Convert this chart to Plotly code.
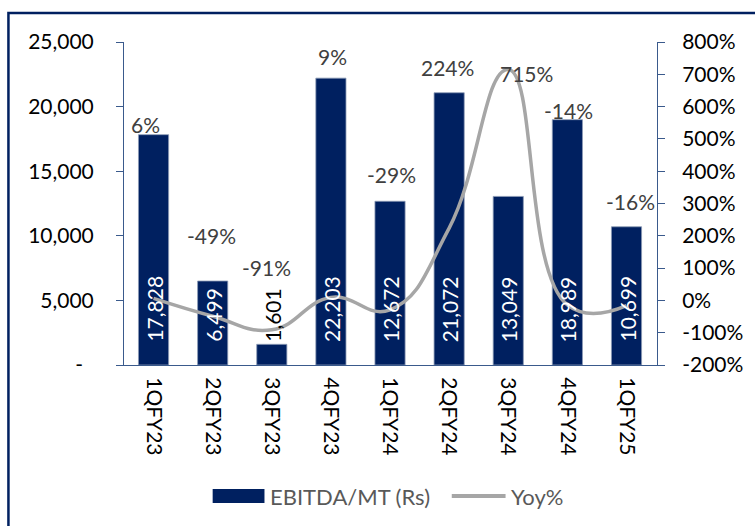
import plotly.graph_objects as go

quarters = ["1QFY23", "2QFY23", "3QFY23", "4QFY23", "1QFY24", "2QFY24", "3QFY24", "4QFY24", "1QFY25"]
ebitda_mt = [17828, 6499, 1601, 22203, 12672, 21072, 13049, 18989, 10699]
yoy_pct = [6, -49, -91, 9, -29, 224, 715, -14, -16]
yoy_labels = ["6%", "-49%", "-91%", "9%", "-29%", "224%", "715%", "-14%", "-16%"]
# placement of YoY labels (left-axis units) and horizontal nudges (px), as in the source
yoy_label_y = [18650, 9985, 7510, 23840, 14780, 23065, 22600, 19660, 12620]
yoy_label_dx = [-8, -1, -5, 2, 1, -2, 18, 1, 4]
left_ticks = [0, 5000, 10000, 15000, 20000, 25000]
left_ticktext = ["-\u00a0\u00a0", "5,000", "10,000", "15,000", "20,000", "25,000"]
right_ticks = list(range(-200, 801, 100))
right_ticktext = [f"{v}%" for v in right_ticks]

BAR = "#002060"
LINE = "#A6A6A6"
AX = "#3A5A8C"
FONT = "Lato"
FS = 21

fig = go.Figure()
fig.add_trace(go.Bar(
    x=quarters, y=ebitda_mt, name="EBITDA/MT (Rs)",
    marker=dict(color=BAR, line=dict(color="#8C9BB5", width=0.8)),
    showlegend=False, hoverinfo="skip",
))
fig.add_trace(go.Scatter(
    x=quarters, y=yoy_pct, name="Yoy%", yaxis="y2", mode="lines",
    line=dict(color=LINE, width=3.5, shape="spline", smoothing=1.3),
    showlegend=False, hoverinfo="skip",
))

ann = []
for q, v in zip(quarters, ebitda_mt):
    ann.append(dict(
        x=q, y=0, xref="x", yref="y", text=f"{v:,}", textangle=-90,
        showarrow=False, yanchor="bottom", xanchor="center", yshift=21,
        font=dict(family=FONT, size=FS, color="white" if v > 5000 else "black"),
    ))
for q, t, yy, dx in zip(quarters, yoy_labels, yoy_label_y, yoy_label_dx):
    ann.append(dict(
        x=q, y=yy, xref="x", yref="y", text=t, showarrow=False,
        xshift=dx, font=dict(family=FONT, size=FS, color="#404040"),
    ))

# manual legend
def px_x(p):
    return (p - 124) / 535.0

def px_y(p):
    return (365 - p) / 323.0

shapes = [
    dict(type="rect", xref="paper", yref="paper", x0=px_x(8), x1=px_x(770), y0=px_y(540), y1=px_y(13),
         line=dict(color="#002060", width=2.5), fillcolor="rgba(0,0,0,0)", layer="below"),
    dict(type="rect", xref="paper", yref="paper", x0=px_x(213), x1=px_x(265), y0=px_y(503), y1=px_y(489),
         line=dict(width=0), fillcolor=BAR),
    dict(type="line", xref="paper", yref="paper", x0=px_x(453), x1=px_x(507), y0=px_y(496), y1=px_y(496),
         line=dict(color=LINE, width=4)),
]
ann.append(dict(x=px_x(269), y=px_y(496), xref="paper", yref="paper", text="EBITDA/MT (Rs)",
                showarrow=False, xanchor="left", yanchor="middle",
                font=dict(family=FONT, size=22, color="#595959")))
ann.append(dict(x=px_x(510), y=px_y(496), xref="paper", yref="paper", text="Yoy%",
                showarrow=False, xanchor="left", yanchor="middle",
                font=dict(family=FONT, size=22, color="#595959")))

fig.update_layout(
    width=755, height=526,
    margin=dict(l=124, r=96, t=42, b=161),
    paper_bgcolor="white", plot_bgcolor="white",
    font=dict(family=FONT, size=FS, color="black"),
    bargap=0.49,
    xaxis=dict(type="category", showline=True, linecolor=AX, linewidth=1, ticks="",
               tickangle=90, showgrid=False, tickfont=dict(size=FS), ticklabelstandoff=7),
    yaxis=dict(range=[0, 25000], tickvals=left_ticks, ticktext=left_ticktext, showline=True,
               linecolor=AX, linewidth=1, ticks="outside", ticklen=7, tickcolor=AX,
               showgrid=False, zeroline=False, ticklabelstandoff=18),
    yaxis2=dict(range=[-200, 800], tickvals=right_ticks, ticktext=right_ticktext, overlaying="y",
                side="right", showline=True, linecolor=AX, linewidth=1, ticks="outside", ticklen=7,
                tickcolor=AX, showgrid=False, zeroline=False, ticklabelstandoff=13),
    annotations=ann, shapes=shapes,
)

fig.write_html("out.html")
